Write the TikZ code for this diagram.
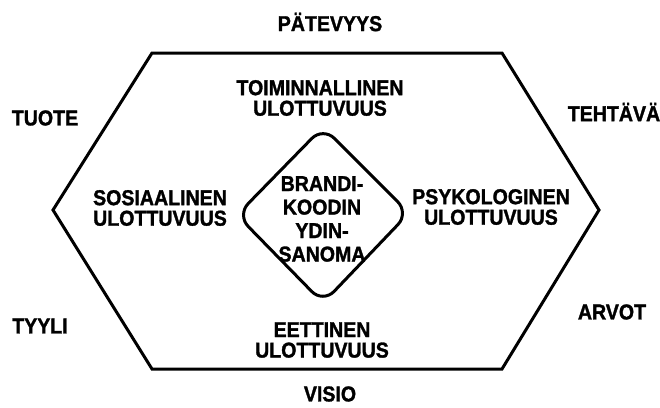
\documentclass[tikz,border=0pt]{standalone}
\usepackage{fontspec}
\setmainfont{Liberation Sans}
% heavy, slightly narrowed sans for all labels
\newfontfamily\labelfont[FakeStretch=0.91, FakeBold=1.4]{Liberation Sans Bold}
\begin{document}
\begin{tikzpicture}[x=1pt,y=-1pt,
  lbl/.style={font=\labelfont\fontsize{21.5}{20.5}\selectfont, align=center, inner sep=0pt},
  core/.style={font=\labelfont\fontsize{21.5}{23.5}\selectfont, align=center, inner sep=0pt},
  frame/.style={line width=3pt, line join=miter}]
\useasboundingbox (0,0) rectangle (660,407);
% outer hexagon
\draw[frame] (152,53) -- (502,53) -- (599,210) -- (502,369) -- (152,369) -- (53,210) -- cycle;
% rounded diamond in the middle
\draw[line width=3pt, rounded corners=16pt] (323,127) -- (409,213) -- (323,303) -- (237,215) -- cycle;
% labels outside the hexagon
\node[lbl] (patevyys) at (330,22) {PÄTEVYYS};
\node[lbl] (tuote) at (45,118) {TUOTE};
\node[lbl] (tehtava) at (614,112) {TEHTÄVÄ};
\node[lbl] (tyyli) at (40,326) {TYYLI};
\node[lbl] (arvot) at (612,312) {ARVOT};
\node[lbl] (visio) at (330,394) {VISIO};
% dimensions inside the hexagon
\node[lbl] (toiminnallinen) at (320,98) {TOIMINNALLINEN\\ULOTTUVUUS};
\node[lbl] (sosiaalinen) at (160,208) {SOSIAALINEN\\ULOTTUVUUS};
\node[lbl] (psykologinen) at (491,207) {PSYKOLOGINEN\\ULOTTUVUUS};
\node[lbl] (eettinen) at (322,340) {EETTINEN\\ULOTTUVUUS};
% core message
\node[core] (ydin) at (322,219) {BRANDI-\\KOODIN\\YDIN-\\SANOMA};
\end{tikzpicture}
\end{document}
